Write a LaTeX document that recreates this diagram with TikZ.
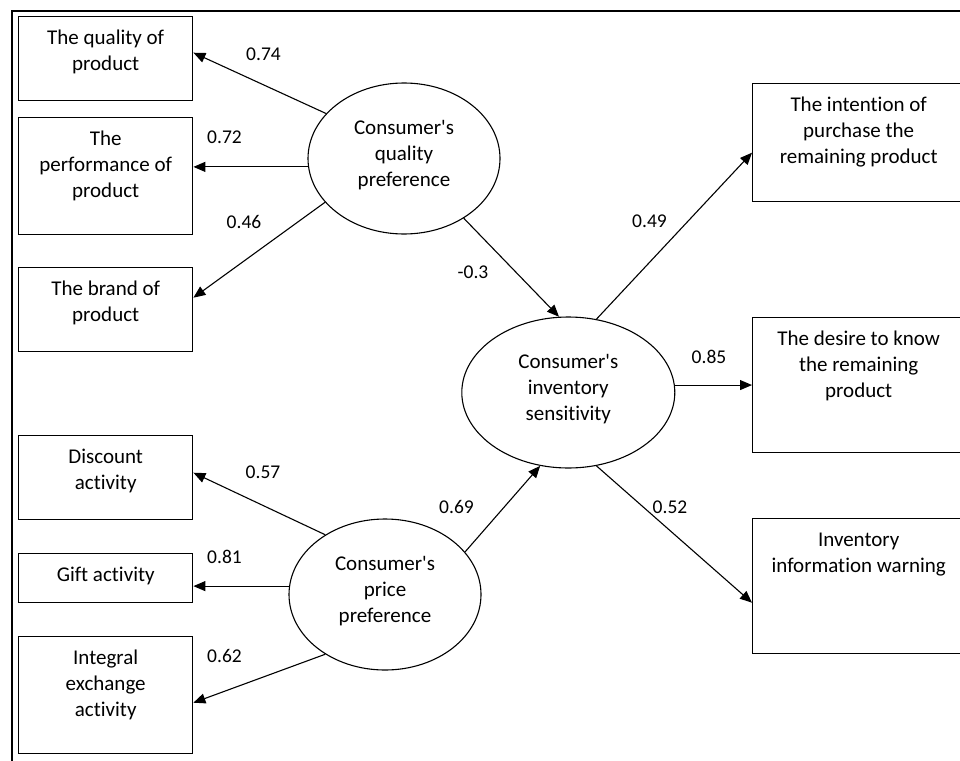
\documentclass[tikz,border=0pt]{standalone}
\usepackage{fontspec}
\setmainfont{Carlito}[Ligatures={NoCommon}]
\usetikzlibrary{arrows.meta,shapes.geometric}
\newcommand{\btxt}[3]{\parbox[t][#2][t]{#1}{\centering\rule{0pt}{28pt}#3}}
\newcommand{\lastdp}{\rule[-11pt]{0pt}{11pt}}
\newcommand{\apos}{\textquotesingle}
\begin{document}
\begin{tikzpicture}[x=1pt,y=-1pt,
  bx/.style={draw, line width=1.4pt, inner sep=0pt, anchor=north west, font=\fontsize{21}{26}\selectfont},
  ell/.style={draw, ellipse, line width=1.1pt, inner sep=0pt, align=center, font=\fontsize{21}{26}\selectfont},
  arr/.style={-{Triangle[length=12pt,width=10pt]}, line width=1.1pt},
  lab/.style={font=\fontsize{19.5}{23}\selectfont, inner sep=0pt}]
\useasboundingbox (0,0) rectangle (960,760);
\clip (0,0) rectangle (960,760);
\fill[white] (0,0) rectangle (960,760);
% frame
\draw[line width=2.4pt] (12,775) -- (12,11) -- (975,11);
% left boxes
\node[bx] (q1) at (18,16) {\btxt{174pt}{84pt}{The quality of\\product}};
\node[bx] (q2) at (18,117) {\btxt{174pt}{117pt}{The\\performance of\\product}};
\node[bx] (q3) at (18,267) {\btxt{174pt}{84pt}{The brand of\\product}};
\node[bx] (d1) at (18,435) {\btxt{174pt}{84pt}{Discount\\activity}};
\node[bx] (d2) at (18,553) {\btxt{174pt}{49pt}{Gift activity}};
\node[bx] (d3) at (18,636) {\btxt{174pt}{117pt}{Integral\\exchange\\activity}};
% right boxes
\node[bx] (r1) at (752,83) {\btxt{212pt}{118pt}{The intention of\\purchase the\\remaining product}};
\node[bx] (r2) at (752,317) {\btxt{212pt}{135pt}{The desire to know\\the remaining\\product}};
\node[bx] (r3) at (752,518) {\btxt{212pt}{135pt}{Inventory\\information warning}};
% ellipses
\node[ell, minimum width=192pt, minimum height=151pt] (qp) at (404,158.5) {Consumer\apos s\\quality\\preference\lastdp};
\node[ell, minimum width=192pt, minimum height=151pt] (pp) at (385,594.5) {Consumer\apos s\\price\\preference\lastdp};
\node[ell, minimum width=213pt, minimum height=151pt] (inv) at (568.3,392.5) {Consumer\apos s\\inventory\\sensitivity\lastdp};
% connectors
\draw[arr] (qp.150) -- ([yshift=6pt]q1.east);
\draw[arr] (qp.185) -- (qp.185 -| q2.east);
\draw[arr] (qp.209) -- ([yshift=12pt]q3.east);
\draw[arr] (qp.-45) -- (inv.97.5);
\draw[arr] (pp.135) -- ([yshift=5pt]d1.east);
\draw[arr] (pp.175) -- (pp.175 -| d2.east);
\draw[arr] (pp.225) -- ([yshift=-7.5pt]d3.east);
\draw[arr] (pp.28) -- (inv.249);
\draw[arr] (inv.69) -- ([yshift=-10pt]r1.west);
\draw[arr] (inv.4) -- (inv.4 -| r2.west);
\draw[arr] (inv.-69) -- ([yshift=-16.5pt]r3.west);
% labels
\node[lab] (l1) at (263.5,54) {0.74};
\node[lab] (l2) at (224.5,137) {0.72};
\node[lab] (l3) at (244,221.5) {0.46};
\node[lab] (l4) at (473,272.5) {-0.3};
\node[lab] (l5) at (649.5,221.5) {0.49};
\node[lab] (l6) at (709,356.5) {0.85};
\node[lab] (l7) at (670,507.5) {0.52};
\node[lab] (l8) at (263,472.5) {0.57};
\node[lab] (l9) at (224.5,556.5) {0.81};
\node[lab] (l10) at (224.5,656) {0.62};
\node[lab] (l11) at (456.5,506.5) {0.69};
\end{tikzpicture}
\end{document}
